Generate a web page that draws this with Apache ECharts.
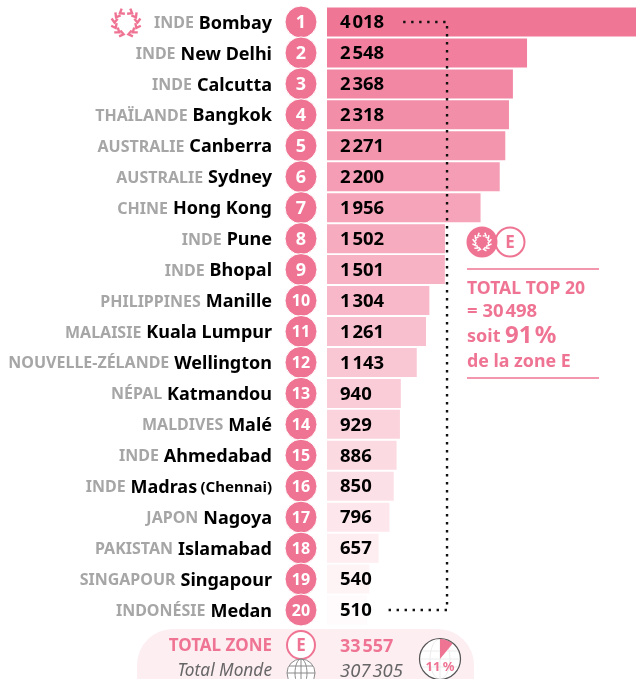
<!DOCTYPE html>
<html><head><meta charset="utf-8">
<style>html,body{margin:0;padding:0;background:#fff}#c{width:636px;height:679px}</style>
<script src="https://cdn.jsdelivr.net/npm/echarts@6/dist/echarts.min.js"></script>
</head><body><div id="c"></div>
<script>
var countries=['INDE','INDE','INDE','THAÏLANDE','AUSTRALIE','AUSTRALIE','CHINE','INDE','INDE','PHILIPPINES','MALAISIE','NOUVELLE-ZÉLANDE','NÉPAL','MALDIVES','INDE','INDE','JAPON','PAKISTAN','SINGAPOUR','INDONÉSIE'];
var cities=['Bombay','New Delhi','Calcutta','Bangkok','Canberra','Sydney','Hong Kong','Pune','Bhopal','Manille','Kuala Lumpur','Wellington','Katmandou','Malé','Ahmedabad','Madras','Nagoya','Islamabad','Singapour','Medan'];
var values=[4018,2548,2368,2318,2271,2200,1956,1502,1501,1304,1261,1143,940,929,886,850,796,657,540,510];
var ranks=[1,2,3,4,5,6,7,8,9,10,11,12,13,14,15,16,17,18,19,20];
var pieValues=[11,89];
var PINK='#ef7493';
var FONT='"Noto Sans",sans-serif';
function fmt(v){var s=String(v);return s.length>3?s.slice(0,-3)+'\u200a'+s.slice(-3):s;}
function mix(i){var t=Math.pow(i/19,.92);var a=[240,118,150],b=[255,250,251];
 return 'rgb('+a.map(function(x,k){return Math.round(x+(b[k]-x)*t)}).join(',')+')';}
function laurel(cx,cy,R,L,w,col){var out=[];
 [-58,-30,-2,26,54,78].forEach(function(deg){var th=deg*Math.PI/180;
  [1,-1].forEach(function(m){
   var px=cx-m*R*Math.cos(th),py=cy+R*Math.sin(th);
   var tang=Math.atan2(-Math.cos(th),-m*Math.sin(th));
   var a1=tang+.65,a2=tang-.65;
   out.push({type:'polyline',z:10,shape:{points:[[px+L*Math.cos(a1),py+L*Math.sin(a1)],[px,py],[px+L*Math.cos(a2),py+L*Math.sin(a2)]]},
     style:{fill:'none',stroke:col,lineWidth:w}});
  });
 });return out;}
function txt(x,y,t,font,fill,align){return {type:'text',x:x,y:y+1.5,z:10,style:{text:t,font:font,fill:fill,align:align||'left',verticalAlign:'middle'}};}
function ln(x1,y1,x2,y2,c,w,z){return {type:'line',z:z||10,shape:{x1:x1,y1:y1,x2:x2,y2:y2},style:{stroke:c,lineWidth:w}};}
var GLOBE='#8a8a8a',FAINT='#ececec';
var graphics=[
 {type:'rect',z:0,shape:{x:137,y:629,width:337,height:90,r:36},style:{fill:'#fdeef2'}},
 {type:'circle',z:10,shape:{cx:482,cy:242,r:15.5},style:{fill:PINK}},
 {type:'circle',z:9,shape:{cx:510,cy:242,r:14.5},style:{fill:'#fff',stroke:PINK,lineWidth:2}},
 txt(510,242,'E','bold 17px '+FONT,PINK,'center'),
 ln(467,269,599,269,PINK,1.5),
 ln(467,378,599,378,PINK,1.5),
 txt(467,287,'TOTAL TOP 20','bold 17.6px '+FONT,PINK),
 txt(467,310,'= 30\u200a498','bold 18.5px '+FONT,PINK),
 txt(467,335,'soit','bold 18px '+FONT,PINK),
 txt(505,335,'91\u200a%','bold 24px '+FONT,PINK),
 txt(467,360,'de la zone E','bold 17.8px '+FONT,PINK),
 txt(272,645,'TOTAL ZONE','bold 17px '+FONT,PINK,'right'),
 {type:'circle',z:10,shape:{cx:301,cy:645,r:14},style:{fill:'#fff',stroke:PINK,lineWidth:2}},
 txt(301,644.5,'E','bold 17px '+FONT,PINK,'center'),
 txt(340,645,'33\u200a557','bold 18px '+FONT,PINK),
 txt(272,670,'Total Monde','italic 17.3px '+FONT,'#666','right'),
 txt(340,670,'307\u200a305','italic 18.5px '+FONT,'#666'),
 {type:'circle',z:10,shape:{cx:301,cy:673,r:14},style:{fill:'#fff',stroke:GLOBE,lineWidth:1}},
 {type:'ellipse',z:10,shape:{cx:301,cy:673,rx:6,ry:14},style:{fill:'none',stroke:GLOBE,lineWidth:1}},
 ln(301,659,301,679,GLOBE,1),
 ln(289,666,313,666,GLOBE,1),
 ln(287,673,315,673,GLOBE,1),
 {type:'circle',z:6,shape:{cx:440,cy:659,r:20},style:{fill:'#fff'}},
 {type:'ellipse',z:7,shape:{cx:440,cy:659,rx:10,ry:20},style:{fill:'none',stroke:FAINT,lineWidth:1}},
 ln(440,639,440,679,FAINT,1,7),
 ln(422,651,458,651,FAINT,1,7),
 ln(420,659,460,659,FAINT,1,7),
 ln(422,667,458,667,FAINT,1,7),
 {type:'circle',z:9,shape:{cx:440,cy:659,r:20.5},style:{fill:'none',stroke:'#555',lineWidth:1.2}},
 txt(440,665.5,'11\u2009%','bold 13px '+FONT,PINK,'center')
].concat(laurel(126,23,11.5,5,2.4,PINK)).concat(laurel(482,242,7.5,3.2,1.5,'#fff'));
var chart=echarts.init(document.getElementById('c'),null,{renderer:'canvas'});
var dotted=[[970,'Bombay'],[1529,'Bombay'],[1529,'Medan'],[745,'Medan']];
chart.setOption({
 animation:false,
 graphic:graphics,
 grid:[{left:327,top:6.5,width:309,height:619},{left:285,top:6.5,width:32,height:619}],
 xAxis:[{type:'value',gridIndex:0,min:0,max:3936,show:false},{type:'value',gridIndex:1,min:0,max:1,show:false}],
 yAxis:[
  {type:'category',gridIndex:0,inverse:true,data:cities,axisLine:{show:false},axisTick:{show:false},axisLabel:{show:false}},
  {type:'category',gridIndex:1,inverse:true,data:cities,axisLine:{show:false},axisTick:{show:false},
   axisLabel:{margin:13,interval:0,padding:[3,0,0,0],formatter:function(v,i){
     return '{c|'+countries[i]+'}{s| }{n|'+v+'}'+(v==='Madras'?' {p|(Chennai)}':'');},
     rich:{c:{fontFamily:FONT,fontWeight:'bold',fontSize:16,color:'#a6a6a6'},
           s:{fontFamily:FONT,fontSize:19},
           n:{fontFamily:FONT,fontWeight:'bold',fontSize:18,color:'#000'},
           p:{fontFamily:FONT,fontWeight:'bold',fontSize:15,color:'#000'}}}}],
 series:[
  {type:'bar',xAxisIndex:0,yAxisIndex:0,data:values,barWidth:29,silent:true,
   itemStyle:{color:function(p){return mix(p.dataIndex);}},
   label:{show:true,position:'insideLeft',distance:13,offset:[0,1],color:'#000',fontFamily:FONT,fontWeight:'bold',fontSize:18.5,formatter:function(p){return fmt(p.value);}}},
  {type:'line',xAxisIndex:0,yAxisIndex:0,data:dotted,symbol:'none',silent:true,z:5,
   lineStyle:{color:'#111',width:2.4,type:[2.4,5.6]}},
  {type:'scatter',xAxisIndex:1,yAxisIndex:1,data:ranks.map(function(r,i){return [.5,cities[i],r];}),symbolSize:32,silent:true,z:6,
   itemStyle:{color:PINK,opacity:1,borderColor:'#fff',borderWidth:1},
   label:{show:true,position:'inside',offset:[0,1],formatter:function(p){return (p.value[2]<10?'{a|':'{b|')+p.value[2]+'}';},
     rich:{a:{color:'#fff',fontFamily:FONT,fontWeight:'bold',fontSize:18},b:{color:'#fff',fontFamily:FONT,fontWeight:'bold',fontSize:16}}}},
  {type:'pie',center:[440,659],radius:[0,20],startAngle:90,silent:true,z:8,label:{show:false},labelLine:{show:false},
   data:[{value:pieValues[0],itemStyle:{color:PINK}},{value:pieValues[1],itemStyle:{color:'rgba(255,255,255,0)'}}]}
 ]
});
</script></body></html>
